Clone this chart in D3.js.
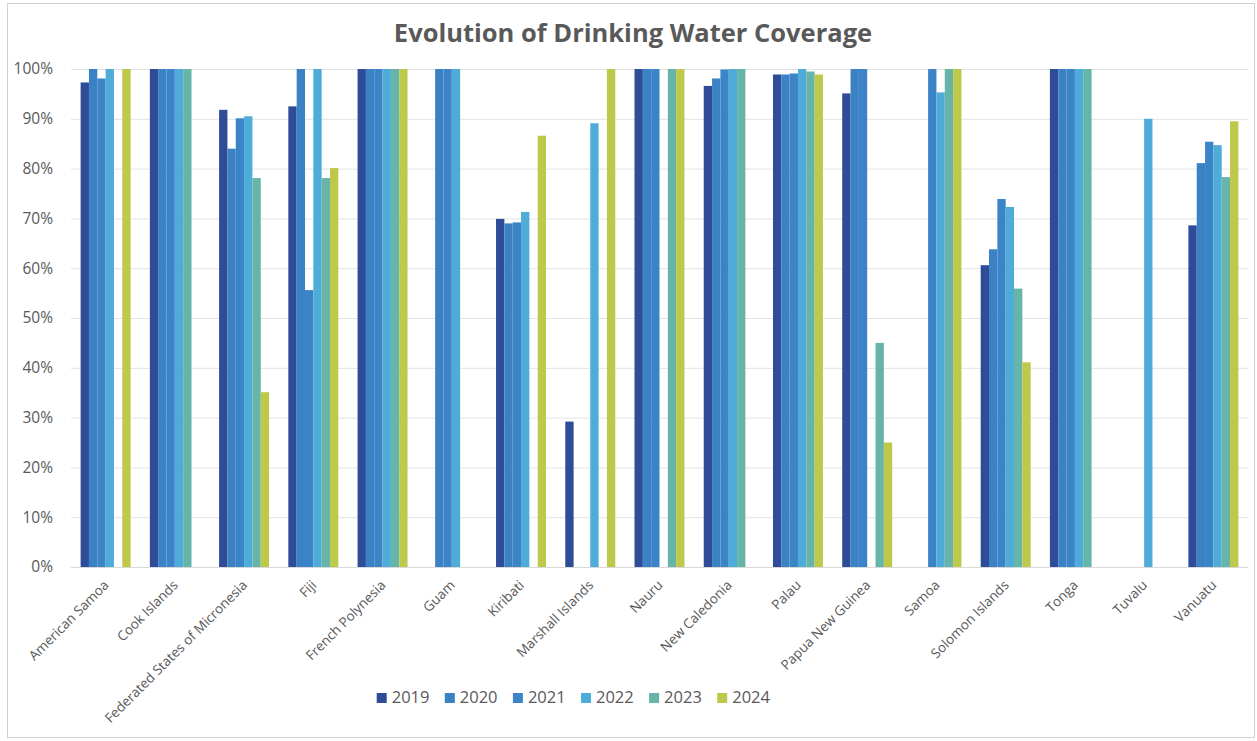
<!DOCTYPE html>
<html>
<head>
<meta charset="utf-8">
<script src="https://cdn.jsdelivr.net/npm/d3@7"></script>
<style>
  html, body { margin: 0; padding: 0; background: #fff; }
  svg { display: block; font-family: "Open Sans", "Noto Sans", sans-serif; }
</style>
</head>
<body>
<svg id="chart" width="1257" height="741"></svg>
<script>
// Drinking water coverage by Pacific country and year (share of population, %)
const countries = [
  "American Samoa", "Cook Islands", "Federated States of Micronesia", "Fiji",
  "French Polynesia", "Guam", "Kiribati", "Marshall Islands", "Nauru",
  "New Caledonia", "Palau", "Papua New Guinea", "Samoa", "Solomon Islands",
  "Tonga", "Tuvalu", "Vanuatu"
];
const years = ["2019", "2020", "2021", "2022", "2023", "2024"];

// one array per year, in country order; null where no figure was reported
const cov2019 = [97.3, 100, 91.8, 92.5, 100, null, 69.9, 29.2, 100, 96.6, 98.9, 95.1, null, 60.6, 100, null, 68.6];
const cov2020 = [100, 100, 84.0, 100, 100, 100, 69.0, null, 100, 98.1, 98.9, 100, null, 63.8, 100, null, 81.1];
const cov2021 = [98.1, 100, 90.1, 55.6, 100, 100, 69.2, null, 100, 99.9, 99.1, 100, 100, 73.9, 100, null, 85.4];
const cov2022 = [100, 100, 90.5, 100, 100, 100, 71.3, 89.1, null, 100, 100, null, 95.3, 72.3, 100, 90.0, 84.7];
const cov2023 = [null, 100, 78.1, 78.1, 100, null, null, null, 100, 100, 99.5, 45.0, 100, 55.9, 100, null, 78.3];
const cov2024 = [100, null, 35.1, 80.1, 100, null, 86.6, 100, 100, null, 98.9, 25.0, 100, 41.1, null, null, 89.5];

const yTicks = [0, 10, 20, 30, 40, 50, 60, 70, 80, 90, 100];
const seriesColors = ["#2E4C97", "#3A82C4", "#3B84C7", "#4FACD9", "#66B5A8", "#BEC84B"];

const seriesValues = [cov2019, cov2020, cov2021, cov2022, cov2023, cov2024];
const rows = [];
countries.forEach((c, i) => {
  years.forEach((y, j) => {
    if (seriesValues[j][i] != null) rows.push({ country: c, year: y, value: seriesValues[j][i] });
  });
});

const svg = d3.select("#chart");
const W = 1257, H = 741;
const plot = { left: 71, right: 1248, top: 69, bottom: 567 };
const textColor = "#595959";

// chart frame
svg.append("rect")
  .attr("x", 7.5).attr("y", 3.5)
  .attr("width", W - 10).attr("height", H - 7)
  .attr("fill", "#fff").attr("stroke", "#d0d0d0").attr("stroke-width", 1);

// title
svg.append("text")
  .attr("x", 633).attr("y", 42)
  .attr("text-anchor", "middle")
  .attr("font-size", 25.5).attr("font-weight", 700)
  .attr("fill", textColor)
  .text("Evolution of Drinking Water Coverage");

const x0 = d3.scaleBand()
  .domain(countries)
  .range([plot.left, plot.right])
  .paddingInner(0.278)
  .paddingOuter(0.139);

const x1 = d3.scaleBand()
  .domain(years)
  .range([0, x0.bandwidth()]);

const y = d3.scaleLinear()
  .domain([0, 100])
  .range([plot.bottom, plot.top]);

const color = d3.scaleOrdinal().domain(years).range(seriesColors);

// horizontal gridlines and percentage labels
const yAxis = d3.axisLeft(y)
  .tickValues(yTicks)
  .tickSize(-(plot.right - plot.left))
  .tickPadding(18)
  .tickFormat(d => d + "%");

const gy = svg.append("g")
  .attr("transform", `translate(${plot.left},0)`)
  .call(yAxis);
gy.select(".domain").remove();
gy.selectAll(".tick line").attr("stroke", "#e3e3e3").attr("stroke-width", 1);
gy.selectAll(".tick text")
  .attr("fill", textColor)
  .attr("font-size", 15.5)
  .attr("font-family", "'Open Sans', sans-serif");

// bars
const groups = svg.append("g")
  .selectAll("g")
  .data(countries)
  .join("g")
  .attr("transform", d => `translate(${x0(d)},0)`);

groups.selectAll("rect")
  .data(c => rows.filter(r => r.country === c))
  .join("rect")
  .attr("x", d => x1(d.year))
  .attr("y", d => y(d.value))
  .attr("width", x1.bandwidth())
  .attr("height", d => y(0) - y(d.value))
  .attr("fill", d => color(d.year));

// baseline
svg.append("line")
  .attr("x1", plot.left).attr("x2", plot.right)
  .attr("y1", plot.bottom + 0.5).attr("y2", plot.bottom + 0.5)
  .attr("stroke", "#d9d9d9");

// rotated country labels
const xAxis = d3.axisBottom(x0).tickSize(0).tickPadding(0);
const gx = svg.append("g")
  .attr("transform", `translate(0,${plot.bottom})`)
  .call(xAxis);
gx.select(".domain").remove();
gx.selectAll(".tick text")
  .attr("fill", textColor)
  .attr("font-size", 13.5)
  .attr("font-family", "'Open Sans', sans-serif")
  .attr("text-anchor", "end")
  .attr("dy", null)
  .attr("y", 0)
  .attr("transform", "translate(4,19) rotate(-45)");

// legend
const legendItemW = 68.1;
const legend = svg.append("g")
  .attr("transform", `translate(376.7,0)`);
const li = legend.selectAll("g")
  .data(years)
  .join("g")
  .attr("transform", (d, i) => `translate(${i * legendItemW},0)`);
li.append("rect")
  .attr("x", 0).attr("y", 693)
  .attr("width", 10).attr("height", 10)
  .attr("fill", d => color(d));
li.append("text")
  .attr("x", 15).attr("y", 702.7)
  .attr("font-size", 16.5)
  .attr("fill", textColor)
  .text(d => d);
</script>
</body>
</html>
